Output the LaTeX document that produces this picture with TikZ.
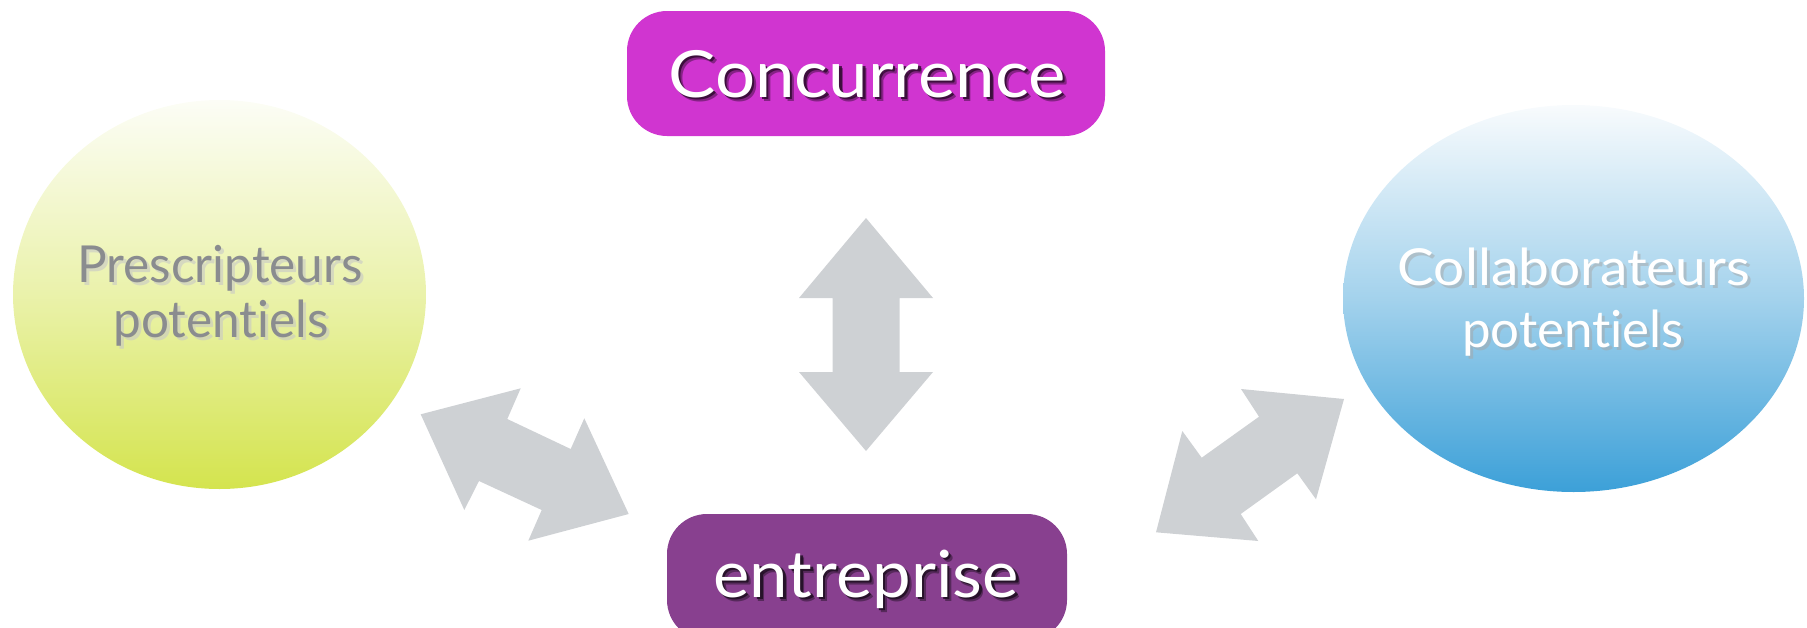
\documentclass[tikz,border=0pt]{standalone}
\usepackage{fontspec}
\usepackage{graphicx}
\setmainfont{Lato}[Ligatures=NoCommon]
\usetikzlibrary{shapes.geometric}
\definecolor{conccol}{RGB}{208,53,208}
\definecolor{entrcol}{RGB}{136,64,143}
\definecolor{arrowgray}{RGB}{206,209,212}
\definecolor{leftbot}{RGB}{212,228,78}
\definecolor{lefttop}{RGB}{252,253,246}
\definecolor{righttop}{RGB}{248,251,253}
\definecolor{rightbot}{RGB}{60,160,216}
\definecolor{ptext}{RGB}{138,140,143}
\newcommand\hsc[2]{\scalebox{#1}[1]{#2}}
\tikzset{
  boxstyle/.style={rectangle, rounded corners=40pt, inner sep=0pt},
  blobstyle/.style={ellipse, inner sep=0pt},
  blockarrow/.style={fill=arrowgray, draw=none},
  bigtext/.style={font=\fontsize{65}{72}\selectfont, anchor=base, inner sep=0pt},
  circtext/.style={font=\fontsize{51}{58}\selectfont, anchor=base, inner sep=0pt},
}
\begin{document}
\begin{tikzpicture}[x=1pt,y=-1pt]
\useasboundingbox (0,0) rectangle (1807,627);
% circles
\node[blobstyle, minimum width=413pt, minimum height=389pt, top color=lefttop, bottom color=leftbot, middle color=leftbot!45!lefttop] (presc) at (219.5,294.5) {};
\node[blobstyle, minimum width=461pt, minimum height=387pt, top color=righttop, bottom color=rightbot, middle color=rightbot!45!righttop] (collab) at (1573.5,298.5) {};
% boxes
\node[boxstyle, fill=conccol, minimum width=478pt, minimum height=125pt] (conc) at (866,73.5) {};
\node[boxstyle, fill=entrcol, minimum width=400pt, minimum height=126pt] (entr) at (867,577) {};
% texts
\node[bigtext, text=black!80!conccol, opacity=.45] at (871,101) {\hsc{1.09}{Concurrence}};
\node[bigtext, text=black!80!conccol, opacity=.8] at (869.5,99.5) {\hsc{1.09}{Concurrence}};
\node[bigtext, text=white] (conct) at (867,97) {\hsc{1.09}{Concurrence}};
\node[bigtext, text=black!80!entrcol, opacity=.45] at (870,601) {\hsc{1.06}{entreprise}};
\node[bigtext, text=black!80!entrcol, opacity=.8] at (868.5,599.5) {\hsc{1.06}{entreprise}};
\node[bigtext, text=white] (entrt) at (866,597) {\hsc{1.06}{entreprise}};
\node[circtext, text=black!22, opacity=.6] at (223,285) {\hsc{0.97}{Prescripteurs}};
\node[circtext, text=black!22, opacity=.6] at (224,340) {\hsc{0.97}{potentiels}};
\node[circtext, text=ptext] (presct1) at (220,282) {\hsc{0.97}{Prescripteurs}};
\node[circtext, text=ptext] (presct2) at (221,337) {\hsc{0.97}{potentiels}};
\node[circtext, text=black!35, opacity=.5] at (1577,288) {\hsc{1.08}{Collaborateurs}};
\node[circtext, text=black!35, opacity=.5] at (1576,350) {\hsc{1.0}{potentiels}};
\node[circtext, text=white] (collt1) at (1574,285) {\hsc{1.08}{Collaborateurs}};
\node[circtext, text=white] (collt2) at (1573,347) {\hsc{1.0}{potentiels}};
% vertical double arrow
\fill[blockarrow] (866,218) -- (933,298) -- (899.5,298) -- (899.5,372) -- (933,372)
  -- (866,451) -- (799,372) -- (832.5,372) -- (832.5,298) -- (799,298) -- cycle;
% left double arrow
\fill[blockarrow] (420.7,414.3) -- (520.7,388.3) -- (507.3,419) -- (570.7,449) -- (584.3,418.3)
  -- (628.7,514) -- (528.3,540.7) -- (541.7,510) -- (479,481) -- (464.3,510) -- cycle;
% right double arrow
\fill[blockarrow] (1241,389) -- (1344,399) -- (1316,499.3) -- (1297.3,473.3) -- (1240.7,514)
  -- (1258.3,541) -- (1156,532.3) -- (1182.3,431) -- (1201.7,457.7) -- (1259,416.7) -- cycle;
\end{tikzpicture}
\end{document}
